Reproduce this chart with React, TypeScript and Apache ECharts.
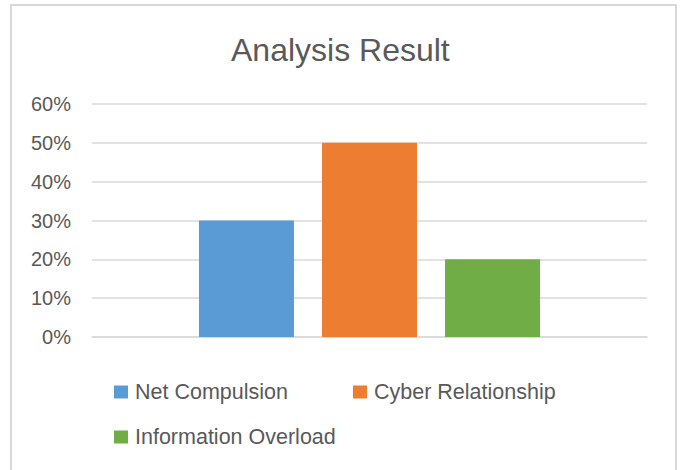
import React, { useEffect, useRef } from "react";
import * as echarts from "echarts";

const categories = ["Analysis"];
const seriesNames = ["Net Compulsion", "Cyber Relationship", "Information Overload"];
const seriesValues = [[0.3], [0.5], [0.2]];
const seriesColors = ["#5B9BD5", "#ED7D31", "#70AD47"];
const yTicks = [0, 0.1, 0.2, 0.3, 0.4, 0.5, 0.6];

const FONT = "Liberation Sans";
const TEXT = "#595959";

export default function App() {
  const ref = useRef<HTMLDivElement>(null);
  useEffect(() => {
    if (!ref.current) return;
    const chart = echarts.init(ref.current, null, { renderer: "svg" });
    const legendPos = [
      { left: 114, top: 381 },
      { left: 353, top: 381 },
      { left: 114, top: 426 },
    ];
    chart.setOption({
      animation: false,
      backgroundColor: "#ffffff",
      title: {
        text: "Analysis Result",
        left: 231,
        top: 34,
        padding: 0,
        textStyle: { fontFamily: FONT, fontSize: 32, fontWeight: "normal", color: TEXT },
      },
      legend: seriesNames.map((n, i) => ({
        data: [n],
        left: legendPos[i].left,
        top: legendPos[i].top,
        padding: 0,
        itemWidth: 14,
        itemHeight: 13,
        itemGap: 0,
        icon: "rect",
        selectedMode: false,
        textStyle: { fontFamily: FONT, fontSize: 21.5, color: TEXT, padding: [0, 0, 0, 2] },
      })),
      grid: { left: 92, right: 35, top: 104, height: 233, containLabel: false },
      xAxis: {
        type: "category",
        data: categories,
        axisLine: { show: true, lineStyle: { color: "#D9D9D9", width: 1.5 } },
        axisTick: { show: false },
        axisLabel: { show: false },
      },
      yAxis: {
        type: "value",
        min: yTicks[0],
        max: yTicks[yTicks.length - 1],
        interval: 0.1,
        axisLine: { show: false },
        axisTick: { show: false },
        splitLine: { lineStyle: { color: "#D9D9D9", width: 1.5 } },
        axisLabel: {
          margin: 21,
          fontFamily: FONT,
          fontSize: 20,
          color: TEXT,
          formatter: (v: number) => Math.round(v * 100) + "%",
        },
      },
      series: seriesNames.map((n, i) => ({
        name: n,
        type: "bar",
        data: seriesValues[i],
        barWidth: 95,
        barGap: "29.5%",
        itemStyle: { color: seriesColors[i] },
      })),
      graphic: [
        {
          type: "rect",
          shape: { x: 11, y: 5, width: 665, height: 500 },
          style: { fill: "none", stroke: "#D9D9D9", lineWidth: 2 },
          silent: true,
          z: 100,
        },
      ],
    });
    return () => chart.dispose();
  }, []);
  return (
    <div
      ref={ref}
      style={{ position: "absolute", left: 0, top: 0, width: 682, height: 470 }}
    />
  );
}
